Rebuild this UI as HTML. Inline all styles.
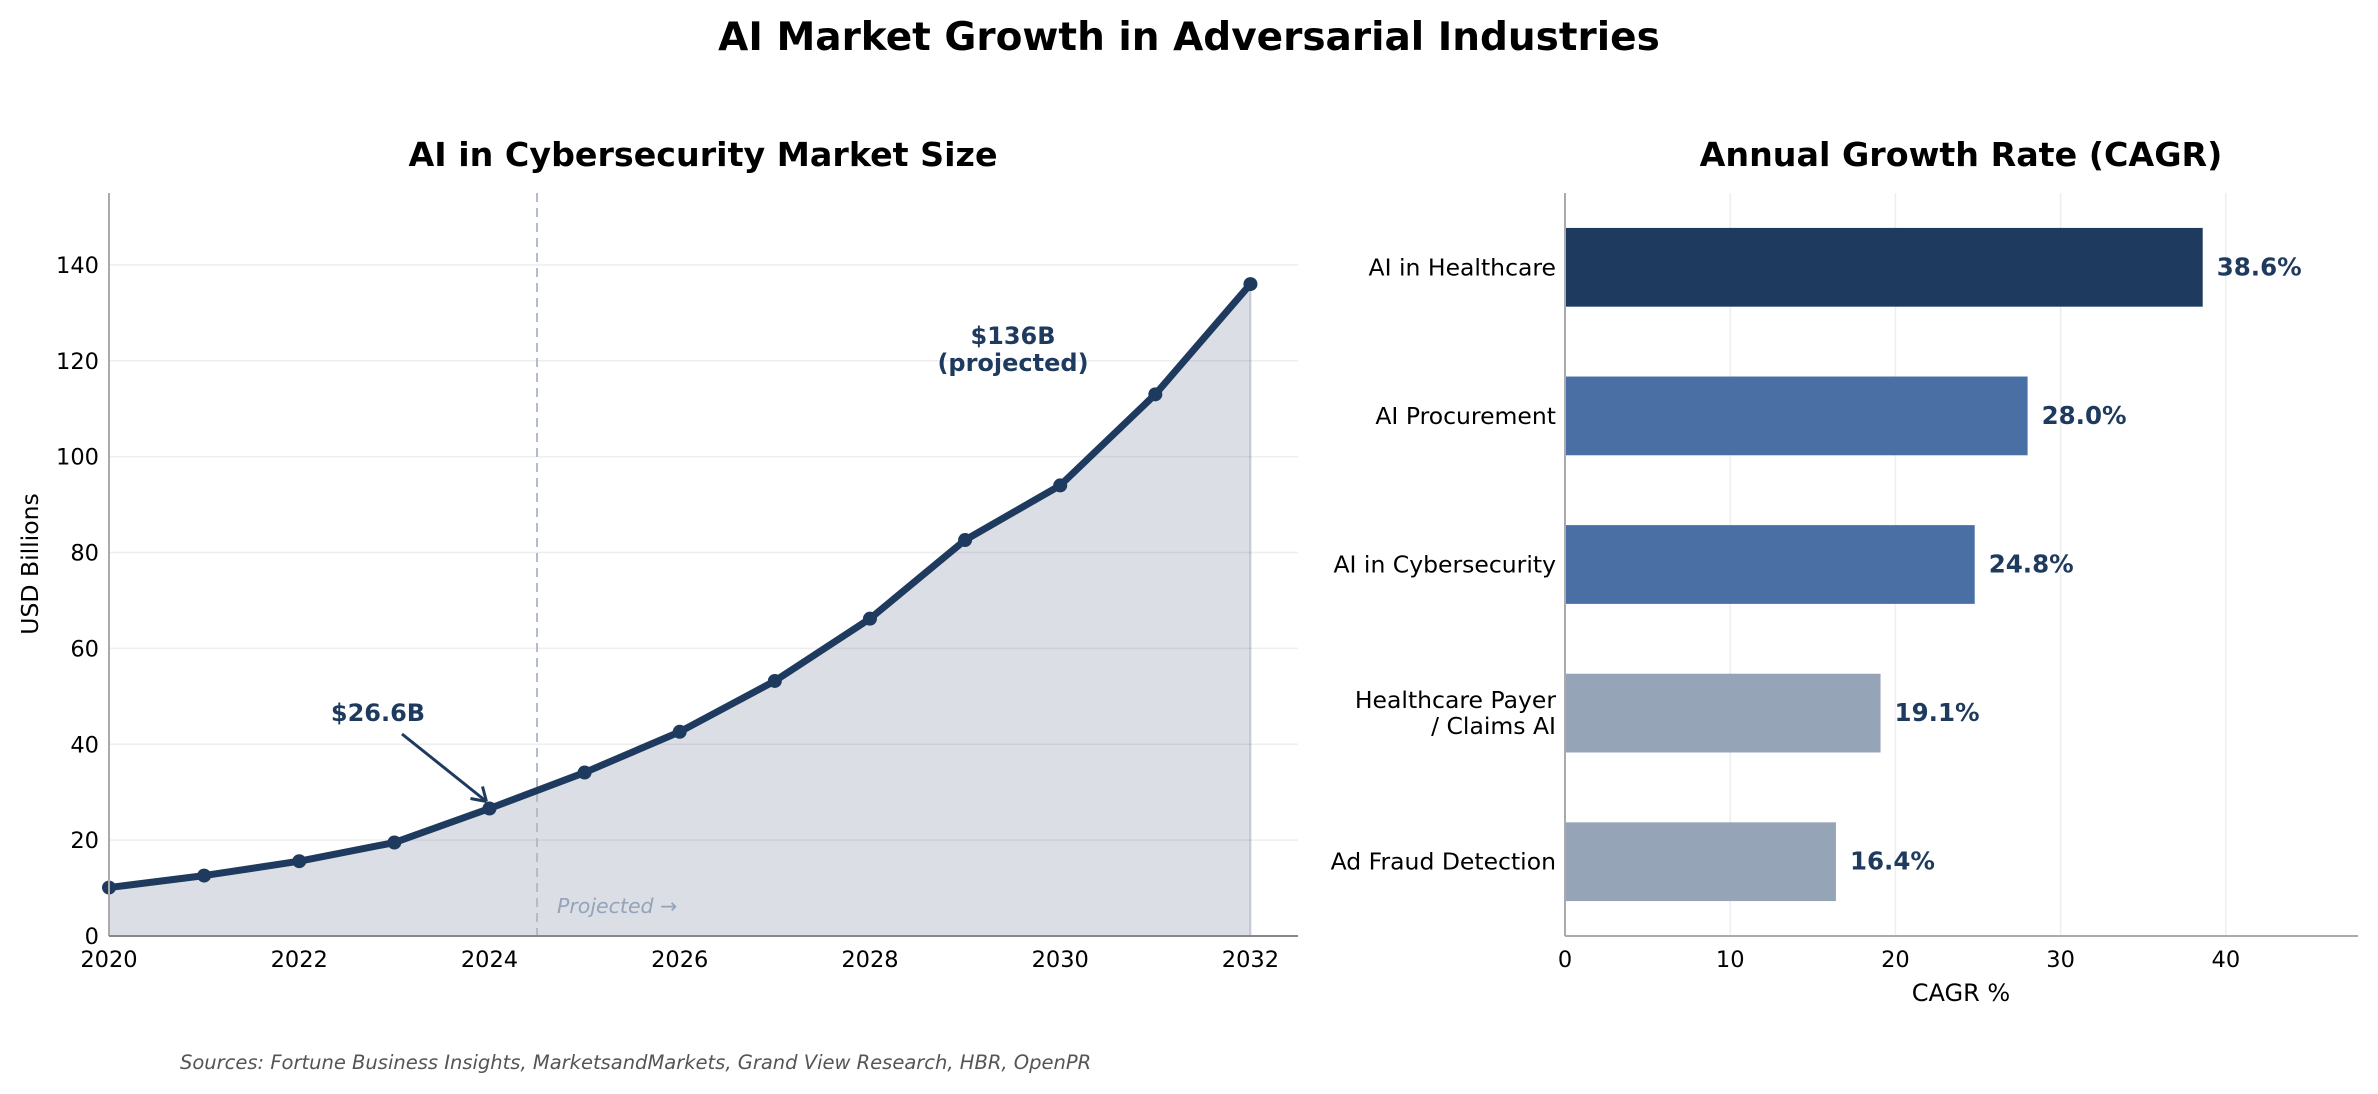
<!DOCTYPE html>
<html><head><meta charset="utf-8"><style>
body{margin:0;background:#fff}
svg{display:block;font-family:"DejaVu Sans","Liberation Sans",sans-serif}
</style></head><body>
<svg id="c" width="2378" height="1094" viewBox="0 0 2378 1094">
<text x="1189" y="50" text-anchor="middle" font-size="39" font-weight="bold">AI Market Growth in Adversarial Industries</text>
<text x="703" y="166" text-anchor="middle" font-size="33.3" font-weight="bold">AI in Cybersecurity Market Size</text>
<text x="1961" y="166" text-anchor="middle" font-size="33.3" font-weight="bold">Annual Growth Rate (CAGR)</text>
<g id="left"></g>
<g id="right"></g>
<text x="180" y="1069" font-size="19.5" font-style="italic" fill="#555">Sources: Fortune Business Insights, MarketsandMarkets, Grand View Research, HBR, OpenPR</text>
</svg>
<script>
const years=[2020,2021,2022,2023,2024,2025,2026,2027,2028,2029,2030,2031,2032];
const marketSize=[10.1,12.6,15.6,19.5,26.6,34.1,42.6,53.2,66.2,82.6,94.0,113.0,136.0];
const yTicks=[0,20,40,60,80,100,120,140];
const xTicks=[2020,2022,2024,2026,2028,2030,2032];
const categories=["AI in Healthcare","AI Procurement","AI in Cybersecurity","Healthcare Payer\n/ Claims AI","Ad Fraud Detection"];
const cagr=[38.6,28.0,24.8,19.1,16.4];
const barColors=["#1f3a5f","#4a6fa5","#4a6fa5","#96a4b8","#96a4b8"];
const cagrTicks=[0,10,20,30,40];

const NS="http://www.w3.org/2000/svg";
function mk(p,t,a,txt){const e=document.createElementNS(NS,t);for(const k in a)e.setAttribute(k,a[k]);if(txt!=null)e.textContent=txt;p.appendChild(e);return e;}
const L=document.getElementById('left'),R=document.getElementById('right');
const lx0=109,lx1=1298,ly0=936,ly1=193;
const xs=v=>lx0+(v-2020)/12.5*(lx1-lx0);
const ys=v=>ly0-v/155*(ly0-ly1);
yTicks.forEach(t=>{
 const g=mk(L,'line',{x1:lx0,x2:lx1,y1:ys(t),y2:ys(t),stroke:'#eee','stroke-width':1.5});
 
 
 const tx=mk(L,'text',{x:lx0-10,y:ys(t)+8,'text-anchor':'end','font-size':22.5},t);
 
 
});
let area=`M${xs(years[0])},${ys(0)}`;years.forEach((y,i)=>area+=`L${xs(y)},${ys(marketSize[i])}`);area+=`L${xs(years[years.length-1])},${ys(0)}Z`;
const ar=mk(L,'path',{d:area,fill:'#1f3a5f','fill-opacity':0.16});


const vl=mk(L,'line',{x1:xs(years[years.length-1]),x2:xs(years[years.length-1]),y1:ys(marketSize[marketSize.length-1]),y2:ly0,stroke:'#1f3a5f','stroke-opacity':0.2,'stroke-width':2});


const dl=mk(L,'line',{x1:xs(2024.5),x2:xs(2024.5),y1:ly1,y2:ly0,stroke:'#b0bccc','stroke-width':2,'stroke-dasharray':'9,6'});


const pj=mk(L,'text',{x:557,y:913,'font-size':20.5,'font-style':'italic',fill:'#94a3b8'},'Projected  →');


const ln=mk(L,'polyline',{points:years.map((y,i)=>xs(y)+','+ys(marketSize[i])).join(' '),fill:'none',stroke:'#1f3a5f','stroke-width':7,'stroke-linejoin':'round'});


years.forEach((y,i)=>{const c=mk(L,'circle',{cx:xs(y),cy:ys(marketSize[i]),r:7,fill:'#1f3a5f'});
 
 });
mk(L,'line',{x1:lx0,x2:lx0,y1:ly1,y2:ly0,stroke:'#aaa','stroke-width':2});
mk(L,'line',{x1:lx0,x2:lx1,y1:ly0,y2:ly0,stroke:'#888','stroke-width':2});
xTicks.forEach(t=>{const tx=mk(L,'text',{x:xs(t),y:967,'text-anchor':'middle','font-size':22.5},t);
 
 });
const yl=mk(L,'text',{x:38,y:564,'text-anchor':'middle','font-size':23.5,transform:'rotate(-90 38 564)'},'USD Billions');


const a1=mk(L,'text',{x:378,y:721,'text-anchor':'middle','font-size':24,'font-weight':'bold',fill:'#1f3a5f'},'$'+marketSize[4]+'B');


const ax=xs(2024)-3,ay=ys(marketSize[4])-7;
mk(L,'line',{x1:402,y1:734,x2:ax,y2:ay,stroke:'#1f3a5f','stroke-width':3});
mk(L,'path',{d:`M${ax},${ay} l-16,-3 M${ax},${ay} l-4,-15`,stroke:'#1f3a5f','stroke-width':3,fill:'none'});
const a2=mk(L,'text',{x:1013,y:344,'text-anchor':'middle','font-size':24,'font-weight':'bold',fill:'#1f3a5f'},'$'+marketSize[12]+'B');


mk(L,'text',{x:1013,y:371,'text-anchor':'middle','font-size':24,'font-weight':'bold',fill:'#1f3a5f'},'(projected)');
const rx0=1565,rx1=2358,ry0=936,ry1=193;
const cx=v=>rx0+v/48*(rx1-rx0);
const cy=i=>ry1+(i+0.5)*(ry0-ry1)/categories.length;
const bh=0.53*(ry0-ry1)/categories.length;
cagrTicks.forEach(t=>{const g=mk(R,'line',{x1:cx(t),x2:cx(t),y1:ry1,y2:ry0,stroke:'#eee','stroke-width':1.5});
 
 
 const tx=mk(R,'text',{x:cx(t),y:967,'text-anchor':'middle','font-size':22.5},t);
 
 });
categories.forEach((c,i)=>{
 const b=mk(R,'rect',{x:cx(0),y:cy(i)-bh/2,width:cx(cagr[i])-cx(0),height:bh,fill:barColors[i]});
 
 
 const v=mk(R,'text',{x:cx(cagr[i])+14,y:cy(i)+8,'font-size':24.5,'font-weight':'bold',fill:'#1f3a5f'},cagr[i].toFixed(1)+'%');
 
 
 const parts=c.split('\n');
 parts.forEach((p,j)=>{const t=mk(R,'text',{x:1556,y:cy(i)+8+(j-(parts.length-1)/2)*26,'text-anchor':'end','font-size':23.5},p);
  
  });
});
mk(R,'line',{x1:rx0,x2:rx0,y1:ry1,y2:ry0,stroke:'#aaa','stroke-width':2});
mk(R,'line',{x1:rx0,x2:rx1,y1:ry0,y2:ry0,stroke:'#aaa','stroke-width':2});
const xl=mk(R,'text',{x:1961,y:1001,'text-anchor':'middle','font-size':24},'CAGR %');


</script>
</body></html>
